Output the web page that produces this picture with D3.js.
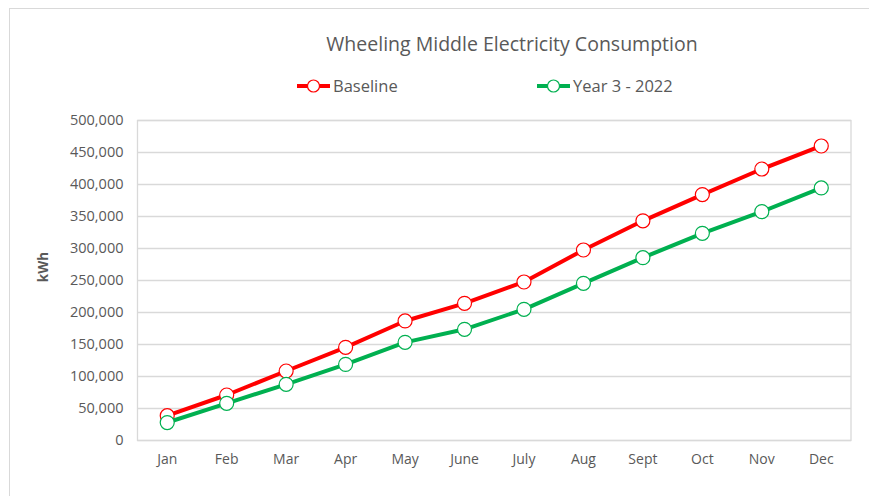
<!DOCTYPE html>
<html>
<head>
<meta charset="utf-8">
<script src="https://cdn.jsdelivr.net/npm/d3@7"></script>
<style>
  html, body { margin: 0; padding: 0; background: #fff; }
  svg { display: block; font-family: "Open Sans", sans-serif; }
</style>
</head>
<body>
<svg id="chart" width="869" height="496"></svg>
<script>
// Monthly cumulative electricity use (kWh)
const months = ["Jan", "Feb", "Mar", "Apr", "May", "June", "July", "Aug", "Sept", "Oct", "Nov", "Dec"];
const baseline = [38000, 70300, 107800, 144800, 186000, 213600, 246900, 296900, 342500, 383500, 423400, 459400];
const year3 = [27300, 57300, 87000, 118200, 152600, 173000, 204200, 244800, 284900, 322900, 356800, 393800];
const yTicks = [0, 50000, 100000, 150000, 200000, 250000, 300000, 350000, 400000, 450000, 500000];

const series = [
  { name: "Baseline", values: baseline, color: "#FF0000", legendX: 297 },
  { name: "Year 3 - 2022", values: year3, color: "#00B050", legendX: 537 }
];

const svg = d3.select("#chart");
const W = 869, H = 496;
const plot = { left: 137.5, right: 851, top: 120, bottom: 440 };
const textColor = "#595959";
const gridColor = "#d9d9d9";
const font = "'Open Sans', sans-serif";

// chart frame
svg.append("rect")
  .attr("x", 9.5).attr("y", 8.5)
  .attr("width", W + 20).attr("height", H + 20)
  .attr("fill", "#fff").attr("stroke", gridColor).attr("stroke-width", 1);

const x = d3.scaleBand().domain(months).range([plot.left, plot.right]);
const y = d3.scaleLinear().domain([0, 500000]).range([plot.bottom, plot.top]);

// horizontal gridlines
svg.append("g")
  .selectAll("line")
  .data(yTicks)
  .join("line")
  .attr("x1", plot.left).attr("x2", plot.right)
  .attr("y1", d => Math.round(y(d)) + 0.5).attr("y2", d => Math.round(y(d)) + 0.5)
  .attr("stroke", gridColor).attr("stroke-width", 1.3);

// plot area border
svg.append("rect")
  .attr("x", plot.left).attr("y", plot.top + 0.5)
  .attr("width", plot.right - plot.left).attr("height", plot.bottom - plot.top)
  .attr("fill", "none").attr("stroke", gridColor).attr("stroke-width", 1.3);

// y axis labels
const yAxis = d3.axisLeft(y).tickValues(yTicks).tickSize(0).tickPadding(14)
  .tickFormat(d3.format(","));
const gy = svg.append("g").attr("transform", `translate(${plot.left},0)`).call(yAxis);
gy.select(".domain").remove();
gy.selectAll("text").attr("fill", textColor).style("font-size", "14.5px")
  .attr("font-family", font);

// x axis labels
const xAxis = d3.axisBottom(x).tickSize(0).tickPadding(14);
const gx = svg.append("g").attr("transform", `translate(0,${plot.bottom})`).call(xAxis);
gx.select(".domain").remove();
gx.selectAll("text").attr("fill", textColor).style("font-size", "14px")
  .attr("font-family", font);

// y axis title
svg.append("text")
  .attr("transform", "translate(48,267) rotate(-90)")
  .attr("text-anchor", "middle")
  .attr("fill", textColor).attr("font-weight", "bold").style("font-size", "13.5px")
  .text("kWh");

// chart title
svg.append("text")
  .attr("x", 512).attr("y", 51)
  .attr("text-anchor", "middle")
  .attr("fill", textColor).style("font-size", "19.5px")
  .text("Wheeling Middle Electricity Consumption");

const cx = (d, i) => x(months[i]) + x.bandwidth() / 2;
const line = d3.line().x(cx).y(d => y(d));

series.forEach(s => {
  const g = svg.append("g");
  g.append("path")
    .datum(s.values)
    .attr("d", line)
    .attr("fill", "none")
    .attr("stroke", s.color)
    .attr("stroke-width", 4)
    .attr("stroke-linejoin", "round");
  g.selectAll("circle")
    .data(s.values)
    .join("circle")
    .attr("cx", cx)
    .attr("cy", d => y(d))
    .attr("r", 7)
    .attr("fill", "#fff")
    .attr("stroke", s.color)
    .attr("stroke-width", 1.2);

  // legend entry
  const lg = svg.append("g").attr("transform", `translate(${s.legendX},86)`);
  lg.append("line").attr("x1", 0).attr("x2", 33).attr("y1", 0).attr("y2", 0)
    .attr("stroke", s.color).attr("stroke-width", 4);
  lg.append("circle").attr("cx", 16.5).attr("cy", 0).attr("r", 6)
    .attr("fill", "#fff").attr("stroke", s.color).attr("stroke-width", 1.2);
  lg.append("text").attr("x", 36).attr("y", 6)
    .attr("fill", textColor).style("font-size", "16.5px")
    .text(s.name);
});
</script>
</body>
</html>
